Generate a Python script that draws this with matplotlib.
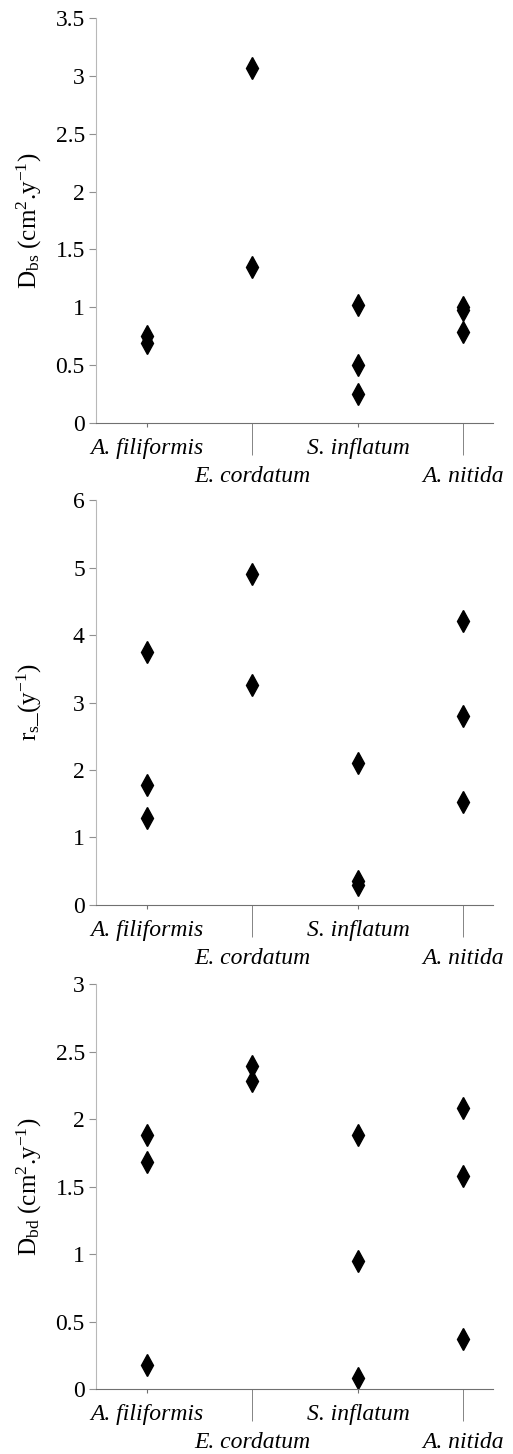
import numpy as np
import matplotlib
matplotlib.use("Agg")
import matplotlib.pyplot as plt
from matplotlib.ticker import FixedLocator

plt.rcParams['font.family'] = ['Liberation Serif', 'DejaVu Serif']
plt.rcParams['mathtext.fontset'] = 'custom'
plt.rcParams['mathtext.rm'] = 'Liberation Serif'
plt.rcParams['mathtext.it'] = 'Liberation Serif:italic'

species = ["A. filiformis", "E. cordatum", "S. inflatum", "A. nitida"]

# one list of measurements per species, per panel
dbs = [[0.75, 0.69], [3.07, 1.35], [1.02, 0.50, 0.25], [1.00, 0.98, 0.79]]
rs = [[3.75, 1.78, 1.29], [4.90, 3.26], [2.10, 0.35, 0.30], [4.21, 2.80, 1.52]]
dbd = [[1.88, 1.68, 0.18], [2.39, 2.28], [1.88, 0.95, 0.08], [2.08, 1.58, 0.37]]

panels = [
    (dbs, r"D$_\mathrm{bs}$ (cm$^2$.y$^{-1}$)", 3.5, np.arange(0, 3.51, 0.5)),
    (rs, r"r$_\mathrm{s}$_(y$^{-1}$)", 6, np.arange(0, 6.1, 1)),
    (dbd, r"D$_\mathrm{bd}$ (cm$^2$.y$^{-1}$)", 3, np.arange(0, 3.01, 0.5)),
]
bottoms = [0.7091, 0.3776, 0.0447]

fig = plt.figure(figsize=(5.13, 14.54), dpi=100)

for (data, ylab, ymax, yticks), b in zip(panels, bottoms):
    ax = fig.add_axes([0.187, b, 0.774, 0.2785])
    for i, vals in enumerate(data):
        ax.plot([i + 1] * len(vals), vals, linestyle="none", marker="d",
                markersize=11, color="black", clip_on=False)
    ax.set_xlim(0.516, 4.28)
    ax.set_ylim(0, ymax)
    ax.set_yticks(yticks)
    ax.set_yticklabels(["%g" % t for t in yticks])
    ax.spines["top"].set_visible(False)
    ax.spines["right"].set_visible(False)
    ax.spines["left"].set_color("#b8b8b8")
    ax.spines["bottom"].set_color("#707070")
    ax.tick_params(axis="y", direction="out", length=5, color="#909090",
                   labelsize=17, pad=3)
    # staggered species labels: odd ones close, even ones lower with a leader tick
    ax.xaxis.set_major_locator(FixedLocator([1, 3]))
    ax.xaxis.set_minor_locator(FixedLocator([2, 4]))
    ax.set_xticklabels([species[0], species[2]], fontstyle="italic")
    ax.set_xticks([2, 4], [species[1], species[3]], minor=True, fontstyle="italic")
    ax.tick_params(axis="x", which="major", direction="out", length=3,
                   color="#707070", labelsize=17, pad=8)
    ax.tick_params(axis="x", which="minor", direction="out", length=23,
                   color="#707070", labelsize=17, pad=8)
    ax.set_ylabel(ylab, fontsize=18)
    ax.yaxis.set_label_coords(-0.13, 0.5)

fig.savefig("out.png", dpi=100)
